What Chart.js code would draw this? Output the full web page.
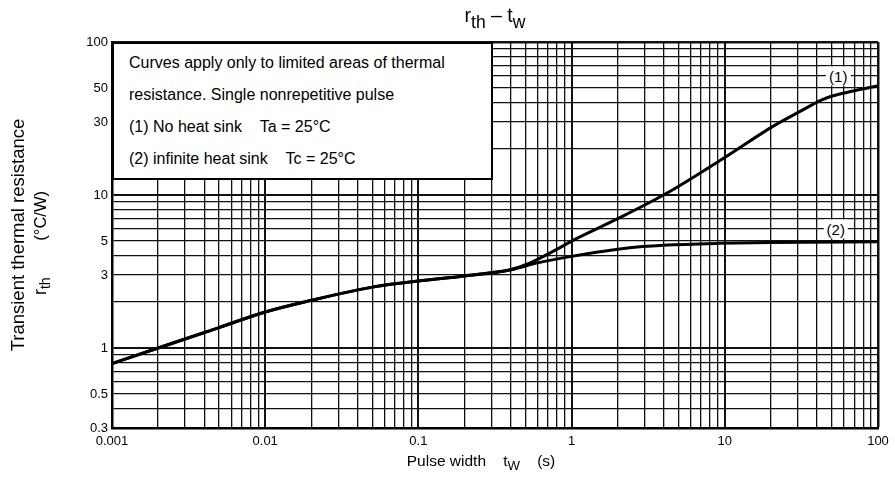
<!DOCTYPE html>
<html>
<head>
<meta charset="utf-8">
<script src="https://cdn.jsdelivr.net/npm/chart.js@4.4.1/dist/chart.umd.min.js"></script>
<style>
  body { margin: 0; background: #fff; font-family: 'Liberation Sans', Arial, sans-serif; }
  #wrap { position: relative; width: 895px; height: 501px; overflow: hidden; }
  #chart { position: absolute; left: 0; top: 0; }
  .txt { position: absolute; color: #000; white-space: nowrap; }
  sub { font-size: 0.85em; vertical-align: -0.3em; line-height: 0; }
  #title { font-size: 19.5px; top: 4px; left: 495px; transform: translateX(-50%); }
  #title sub { font-size: 0.9em; vertical-align: -0.35em; }
  .rot { transform: translate(-50%, -50%) rotate(-90deg); line-height: 20px; }
  #yTitle1 { font-size: 18.5px; left: 18px; top: 235px; }
  #yTitle2 { font-size: 16.5px; left: 40px; top: 243px; }
  #yTitle2 .r { font-size: 18px; }
  #xTitle { font-size: 15.5px; left: 481px; top: 452px; transform: translateX(-50%); }
  #note { position: absolute; background: #fff; border: 2px solid #000; box-sizing: border-box;
          font-size: 16px; line-height: 32px; padding: 3px 0 0 15px; }
  .curveLbl { position: absolute; background: #fff; font-size: 15px; padding: 1px 3px;
              transform: translate(-50%, -50%); }
</style>
</head>
<body>
<div id="wrap">
  <canvas id="chart" width="895" height="501"></canvas>
  <div id="title" class="txt">r<sub>th</sub> – t<sub>w</sub></div>
  <div id="yTitle1" class="txt rot">Transient thermal resistance</div>
  <div id="yTitle2" class="txt rot"><span class="r">r</span><sub>th</sub>&nbsp;&nbsp;&nbsp;&nbsp;&nbsp;&nbsp;&nbsp;&nbsp;(°C/W)</div>
  <div id="xTitle" class="txt">Pulse width&nbsp;&nbsp;&nbsp;&nbsp;t<sub>W</sub>&nbsp;&nbsp;&nbsp;&nbsp;(s)</div>
  <div id="note">Curves apply only to limited areas of thermal<br>resistance. Single nonrepetitive pulse<br>(1) No heat sink&nbsp;&nbsp;&nbsp;&nbsp;Ta = 25°C<br>(2) infinite heat sink&nbsp;&nbsp;&nbsp;&nbsp;Tc = 25°C</div>
</div>
<script>
// curve (1): no heat sink
const tw1 = [0.001, 0.002, 0.005, 0.01, 0.02, 0.05, 0.1, 0.2, 0.4, 0.5, 0.6, 0.84, 1, 2, 4.2, 10, 20.6, 31, 43, 51, 62.5, 100];
const rth1 = [0.79, 1.0, 1.36, 1.72, 2.05, 2.5, 2.74, 2.96, 3.25, 3.5, 3.8, 4.53, 5.0, 7.0, 10.3, 17.6, 28.1, 35.2, 41.9, 44.5, 46.8, 51.7];
// curve (2): infinite heat sink
const tw2 = [0.001, 0.002, 0.005, 0.01, 0.02, 0.05, 0.1, 0.2, 0.4, 0.6, 1, 2, 2.9, 4, 9, 20, 100];
const rth2 = [0.79, 1.0, 1.36, 1.72, 2.05, 2.5, 2.74, 2.96, 3.25, 3.6, 3.97, 4.42, 4.6, 4.7, 4.83, 4.9, 4.95];

const xTickLabels = [0.001, 0.01, 0.1, 1, 10, 100];
const yTickLabels = [0.3, 0.5, 1, 3, 5, 10, 30, 50, 100];

const curveNames = ['(1)', '(2)'];
const curveLblTw = [55, 53];
const curveLblRth = [60, 6];

// log grid: 1..9 per decade
function logGrid(lo, hi) {
  let out = [];
  for (let e = -4; e <= 3; e++) {
    for (let m = 1; m <= 9; m++) {
      let v = Number((m * Math.pow(10, e)).toPrecision(6));
      if (v >= lo - 1e-9 && v <= hi + 1e-9) out.push(v);
    }
  }
  return out;
}
const xGrid = logGrid(0.001, 100);
const yGrid = logGrid(0.3, 100);

function isIn(list, v) {
  return list.some(t => Math.abs(t - v) / t < 1e-6);
}
function isDecade(v) {
  let l = Math.log10(v);
  return Math.abs(l - Math.round(l)) < 1e-6;
}

let lblDivs = curveNames.map(n => {
  let d = document.createElement('div');
  d.className = 'curveLbl';
  d.textContent = n;
  document.getElementById('wrap').appendChild(d);
  return d;
});

const placeText = {
  id: 'placeText',
  afterDraw(chart) {
    const a = chart.chartArea;
    const xs = chart.scales.x, ys = chart.scales.y;
    const note = document.getElementById('note');
    note.style.left = a.left + 'px';
    note.style.top = a.top + 'px';
    note.style.width = (xs.getPixelForValue(0.3) - a.left + 2) + 'px';
    note.style.height = (ys.getPixelForValue(12.6) - a.top) + 'px';
    lblDivs.forEach((d, i) => {
      d.style.left = xs.getPixelForValue(curveLblTw[i]) + 'px';
      d.style.top = ys.getPixelForValue(curveLblRth[i]) + 'px';
    });
  }
};

function gridWidth(max) {
  return ctx => {
    let v = ctx.tick ? ctx.tick.value : 0;
    if (Math.abs(v - max) < 1e-9) return 2.5;
    return isDecade(v) ? 2 : 1.3;
  };
}

new Chart(document.getElementById('chart'), {
  type: 'line',
  data: {
    datasets: [
      {
        label: '(1)',
        data: tw1.map((t, i) => ({x: t, y: rth1[i]})),
        borderColor: '#000',
        borderWidth: 3,
        pointRadius: 0,
        cubicInterpolationMode: 'monotone'
      },
      {
        label: '(2)',
        data: tw2.map((t, i) => ({x: t, y: rth2[i]})),
        borderColor: '#000',
        borderWidth: 3,
        pointRadius: 0,
        cubicInterpolationMode: 'monotone'
      }
    ]
  },
  options: {
    responsive: false,
    animation: false,
    layout: { padding: { left: 0, top: 42, right: 17, bottom: 0 } },
    plugins: {
      legend: { display: false },
      tooltip: { enabled: false },
      title: { display: false }
    },
    scales: {
      x: {
        type: 'logarithmic',
        min: 0.001,
        max: 100,
        afterBuildTicks: s => { s.ticks = xGrid.map(v => ({value: v})); },
        afterFit: s => { s.height = 73; },
        border: { color: '#000', width: 2.5 },
        grid: { color: '#111', lineWidth: gridWidth(100), drawTicks: false },
        ticks: {
          autoSkip: false,
          maxRotation: 0,
          padding: 6,
          color: '#000',
          font: { family: "'Liberation Sans', Arial, sans-serif", size: 13 },
          callback: v => isIn(xTickLabels, v) ? String(v) : ''
        }
      },
      y: {
        type: 'logarithmic',
        min: 0.3,
        max: 100,
        afterBuildTicks: s => { s.ticks = yGrid.map(v => ({value: v})); },
        afterFit: s => { s.width = 112; },
        border: { color: '#000', width: 2.5 },
        grid: { color: '#111', lineWidth: gridWidth(100), drawTicks: false },
        ticks: {
          autoSkip: false,
          padding: 4,
          color: '#000',
          font: { family: "'Liberation Sans', Arial, sans-serif", size: 13 },
          callback: v => isIn(yTickLabels, v) ? String(v) : ''
        }
      }
    }
  },
  plugins: [placeText]
});
</script>
</body>
</html>
